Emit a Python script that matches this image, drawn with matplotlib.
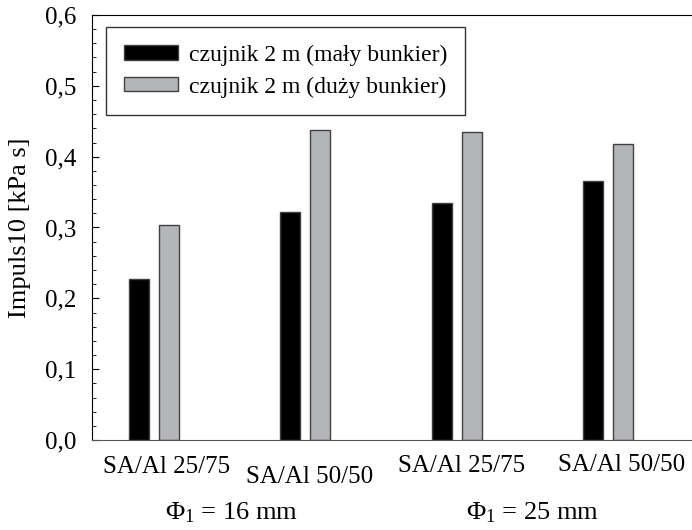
import matplotlib.pyplot as plt
from matplotlib.ticker import MultipleLocator, FuncFormatter

plt.rcParams['font.family'] = ['Liberation Serif', 'DejaVu Serif']
plt.rcParams['mathtext.fontset'] = 'custom'
plt.rcParams['mathtext.rm'] = 'Liberation Serif'
plt.rcParams['mathtext.it'] = 'Liberation Serif'

# dane
kategorie = ['SA/Al 25/75', 'SA/Al 50/50', 'SA/Al 25/75', 'SA/Al 50/50']
maly = [0.227, 0.322, 0.335, 0.365]
duzy = [0.304, 0.438, 0.435, 0.418]
grupy = ['Φ$_1$ = 16 mm', 'Φ$_1$ = 25 mm']

x = [1, 2, 3, 4]
w = 0.132

fig = plt.figure(figsize=(6.92, 5.30), dpi=100)
ax = fig.add_axes([92/692, 90/530, 600/692, 425/530])

ax.bar([i - 0.099 for i in x], maly, w, color='black', edgecolor='#404040',
       linewidth=1, label='czujnik 2 m (mały bunkier)')
ax.bar([i + 0.099 for i in x], duzy, w, color='#b4b5b9', edgecolor='#404040',
       linewidth=1, label='czujnik 2 m (duży bunkier)')

ax.set_xlim(0.59, 4.555)
ax.set_ylim(0, 0.6)
ax.yaxis.set_major_locator(MultipleLocator(0.1))
ax.yaxis.set_minor_locator(MultipleLocator(0.02))
ax.yaxis.set_major_formatter(FuncFormatter(lambda v, p: f'{v:.1f}'.replace('.', ',')))
ax.tick_params(axis='y', which='major', direction='in', length=5, labelsize=18, pad=11)
ax.tick_params(axis='y', which='minor', direction='in', length=3)
ax.set_xticks([])
ax.spines['right'].set_visible(False)
ax.spines['bottom'].set_color('#555555')

ax.set_ylabel('Impuls10 [kPa s]', fontsize=19, labelpad=10)

# podpisy kategorii (przesunięte jak w oryginale)
lab_x = [167, 310, 462, 622]
lab_y = [467, 477, 466, 465]
for t, px, py in zip(kategorie, lab_x, lab_y):
    fig.text(px/692, 1 - py/530, t, ha='center', va='center', fontsize=18)
fig.text(232/692, 1 - 513/530, grupy[0], ha='center', va='center', fontsize=19)
fig.text(533/692, 1 - 513/530, grupy[1], ha='center', va='center', fontsize=19)

leg = ax.legend(loc='upper left', bbox_to_anchor=(14/600, 1 - 12/425), fontsize=17,
                frameon=True, fancybox=False, edgecolor='black', handlelength=2.3,
                handleheight=0.55, handletextpad=0.45, borderpad=0.75,
                labelspacing=0.45, borderaxespad=0)
leg.get_frame().set_linewidth(1)

fig.savefig('out.png', dpi=100)
